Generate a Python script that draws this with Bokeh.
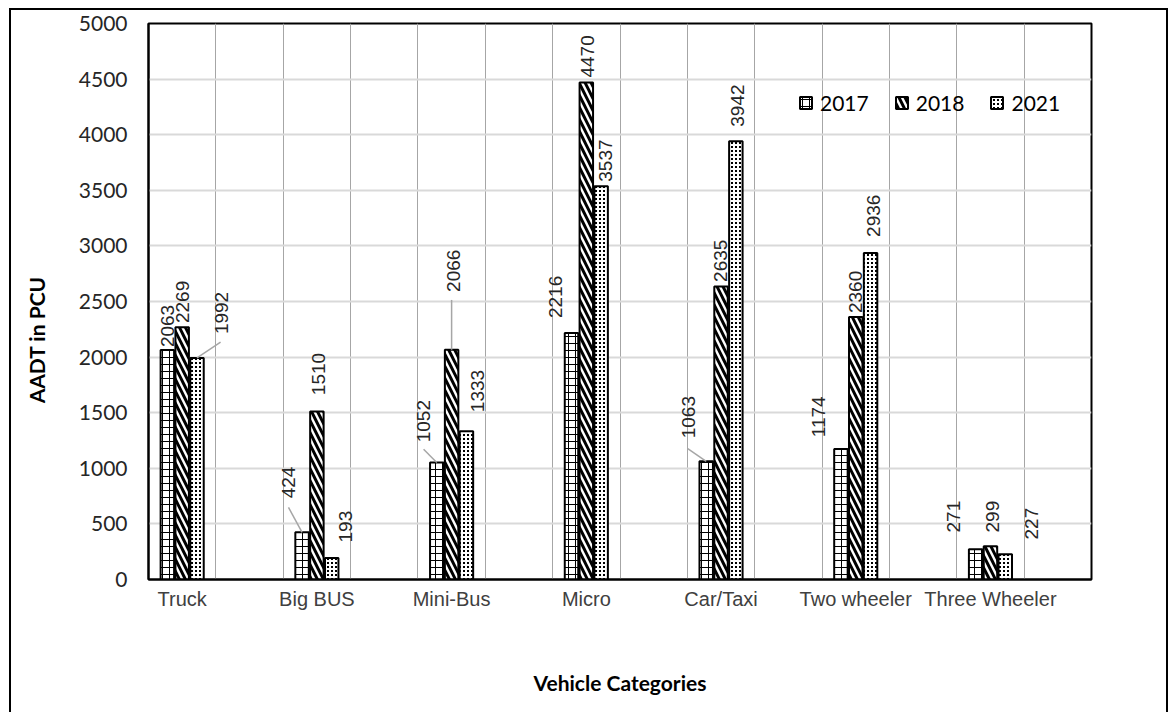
import numpy as np
from bokeh.plotting import figure
from bokeh.models import (FixedTicker, Legend, LegendItem, ColumnDataSource)
from bokeh.core.properties import value
from bokeh.embed import file_html
from bokeh.resources import INLINE

# ---- data ----
categories = ["Truck", "Big BUS", "Mini-Bus", "Micro", "Car/Taxi", "Two wheeler", "Three Wheeler"]
years = ["2017", "2018", "2021"]
v2017 = [2063, 424, 1052, 2216, 1063, 1174, 271]
v2018 = [2269, 1510, 2066, 4470, 2635, 2360, 299]
v2021 = [1992, 193, 1333, 3537, 3942, 2936, 227]
y_ticks = [0, 500, 1000, 1500, 2000, 2500, 3000, 3500, 4000, 4500, 5000]

# ---- label layout (x shift within category, label base in data units) ----
lab_x_2017 = [0.141, 0.039, 0.042, 0.022, 0.009, -0.026, -0.024]
lab_x_2018 = [0.252, 0.262, 0.264, 0.259, 0.246, 0.249, 0.266]
lab_x_2021 = [0.542, 0.463, 0.442, 0.393, 0.373, 0.383, 0.555]
lab_y_2017 = [2090, 730, 1234, 2351, 1270, 1279, 423]
lab_y_2018 = [2306, 1658, 2586, 4514, 2676, 2396, 423]
lab_y_2021 = [2207, 333, 1505, 3577, 4072, 3081, 360]

# leader lines: (series index, category index, end x shift, end y)
leader_series = [2, 0, 0, 1, 0]
leader_cat = [0, 1, 2, 2, 4]
leader_end_dx = [0.535, 0.039, 0.042, 0.25, 0.0]
leader_end_y = [2135, 649, 1171, 2514, 1180]

bar_offsets = [0.14, 0.25, 0.36]
bar_width = 0.1
n = len(categories)

W, H = 1159, 704
p = figure(width=W, height=H, x_range=(0, n), y_range=(0, 5000),
           output_backend="svg", toolbar_location=None,
           min_border_left=137, min_border_right=79,
           min_border_top=13, min_border_bottom=135)
# outer chart border (open at the bottom, as in the reference)
p.styles = {"border-left": "2px solid black", "border-top": "2px solid black",
            "border-right": "2px solid black",
            "margin-left": "9px", "margin-top": "8px"}
p.background_fill_color = "white"
p.border_fill_color = "white"
p.outline_line_color = "black"
p.outline_line_width = 2

# grids
p.ygrid.ticker = FixedTicker(ticks=y_ticks)
p.ygrid.grid_line_color = "#d9d9d9"
p.ygrid.grid_line_width = 2
p.xgrid.ticker = FixedTicker(ticks=list(np.arange(0.5, n, 0.5)))
p.xgrid.grid_line_color = "#a6a6a6"
p.xgrid.grid_line_width = 1

# axes
p.yaxis.ticker = FixedTicker(ticks=y_ticks)
p.xaxis.ticker = FixedTicker(ticks=[i + 0.25 for i in range(n)])
p.xaxis.major_label_overrides = {i + 0.25: c for i, c in enumerate(categories)}
for ax in (p.xaxis[0], p.yaxis[0]):
    ax.axis_line_color = "black"
    ax.axis_line_width = 2
    ax.major_tick_line_color = None
    ax.minor_tick_line_color = None
    ax.major_tick_out = 0
    ax.major_tick_in = 0
    ax.minor_tick_out = 0

p.yaxis.major_label_text_font = "Lato"
p.yaxis.major_label_text_font_size = "21px"
p.yaxis.major_label_text_color = "#262626"
p.yaxis.major_label_standoff = 21
# trailing no-break spaces push the visible title below the middle, as in the reference
p.yaxis.axis_label = "AADT in PCU" + "\u00a0" * 15
p.yaxis.axis_label_text_font = "Lato"
p.yaxis.axis_label_text_font_style = "bold"
p.yaxis.axis_label_text_font_size = "21px"
p.yaxis.axis_label_text_color = "#000000"
p.yaxis.axis_label_standoff = 27

p.xaxis.major_label_text_font = "Liberation Sans"
p.xaxis.major_label_text_font_size = "20px"
p.xaxis.major_label_text_color = "#404040"
p.xaxis.major_label_standoff = 8
p.xaxis.axis_label = "Vehicle Categories"
p.xaxis.axis_label_text_font = "Lato"
p.xaxis.axis_label_text_font_style = "bold"
p.xaxis.axis_label_text_font_size = "21px"
p.xaxis.axis_label_text_color = "#000000"
p.xaxis.axis_label_standoff = 57

# bars
series = [v2017, v2018, v2021]
fills = ["white", "white", "black"]
hatch_colors = ["black", "black", "white"]
hatches = [dict(hatch_pattern="+", hatch_scale=7, hatch_weight=1),
           dict(hatch_pattern="\\", hatch_scale=12, hatch_weight=3),
           dict(hatch_pattern="+", hatch_scale=4, hatch_weight=2)]
renderers = []
for vals, off, hs, fc, hc in zip(series, bar_offsets, hatches, fills, hatch_colors):
    src = ColumnDataSource(dict(x=[i + off for i in range(n)], top=vals))
    r = p.vbar(x="x", top="top", width=bar_width, source=src,
               fill_color=fc, line_color="black", line_width=2,
               hatch_color=hc, **hs)
    renderers.append(r)

# leader lines
x0 = [c + bar_offsets[s] for s, c in zip(leader_series, leader_cat)]
y0 = [series[s][c] for s, c in zip(leader_series, leader_cat)]
x1 = [c + d for c, d in zip(leader_cat, leader_end_dx)]
p.segment(x0=x0, y0=y0, x1=x1, y1=leader_end_y, line_color="#a6a6a6", line_width=1.5)

# data labels
lab_x_all, lab_y_all, lab_t_all = [], [], []
for vals, lx, ly in zip(series, [lab_x_2017, lab_x_2018, lab_x_2021],
                        [lab_y_2017, lab_y_2018, lab_y_2021]):
    for i in range(n):
        lab_x_all.append(i + lx[i])
        lab_y_all.append(ly[i])
        lab_t_all.append(str(vals[i]))
p.text(x=lab_x_all, y=lab_y_all, text=lab_t_all, angle=np.pi / 2,
       text_align="left", text_baseline="middle",
       text_font=value("Liberation Sans"), text_font_size="19px",
       text_color="#262626")

legend = Legend(items=[LegendItem(label=y, renderers=[r]) for y, r in zip(years, renderers)],
                orientation="horizontal", location=(650, 464),
                padding=0, margin=0, spacing=25, label_standoff=7,
                glyph_width=15, glyph_height=15,
                background_fill_alpha=0, border_line_color=None,
                label_text_font="Lato", label_text_font_size="21px",
                label_text_color="#000000")
p.add_layout(legend, "center")

open("out.html", "w").write(file_html(p, INLINE))
